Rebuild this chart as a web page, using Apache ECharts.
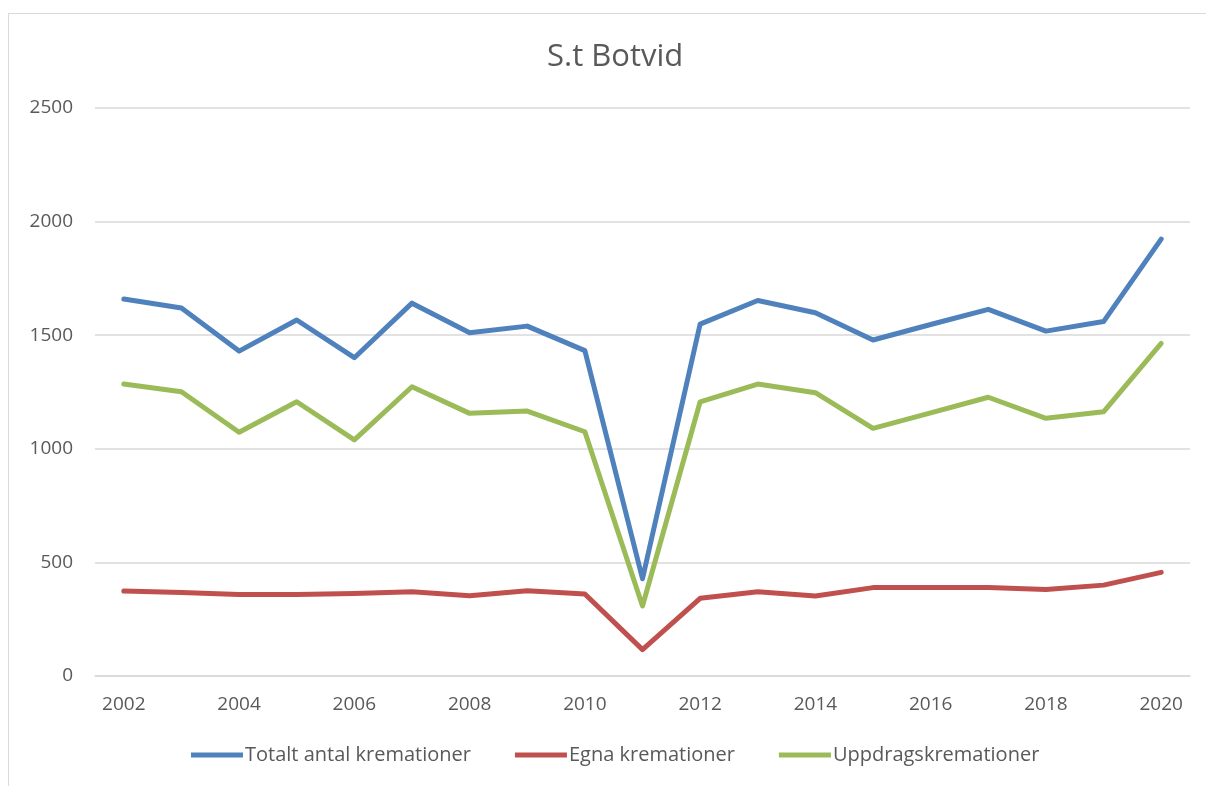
<!DOCTYPE html>
<html>
<head>
<meta charset="utf-8">
<script src="https://cdn.jsdelivr.net/npm/echarts@6/dist/echarts.min.js"></script>
<style>
  body { margin: 0; background: #fff; }
  #frame { position: absolute; left: 8px; top: 13px; width: 1200px; height: 780px; border-top: 1px solid #d9d9d9; border-left: 1px solid #d9d9d9; }
  #main { position: absolute; left: 0; top: 0; width: 1206px; height: 786px; }
</style>
</head>
<body>
<div id="frame"></div>
<div id="main"></div>
<script>
// years on the x axis
var years = ['2002','2003','2004','2005','2006','2007','2008','2009','2010','2011',
             '2012','2013','2014','2015','2016','2017','2018','2019','2020'];
var totalt = [1659,1620,1430,1567,1401,1641,1511,1540,1432,428,1549,1653,1599,1479,1547,1614,1518,1560,1923];
var egna = [374,368,359,359,363,371,353,375,361,116,342,371,352,389,389,390,381,400,456];
var uppdrag = [1285,1251,1073,1207,1039,1273,1156,1166,1075,308,1207,1285,1247,1090,1158,1227,1134,1163,1464];
var names = ['Totalt antal kremationer', 'Egna kremationer', 'Uppdragskremationer'];
var colors = ['#4f81bd', '#c0504d', '#9bbb59'];
var yTicks = [0, 500, 1000, 1500, 2000, 2500];

var font = "'Open Sans', 'DejaVu Sans', sans-serif";
var chart = echarts.init(document.getElementById('main'));

function mk(name, data, i) {
    return {
        name: name,
        type: 'line',
        data: data,
        symbol: 'none',
        lineStyle: { width: 5, color: colors[i], cap: 'round', join: 'round' },
        itemStyle: { color: colors[i] }
    };
}

var option = {
    animation: false,
    title: {
        text: 'S.t Botvid',
        left: 542,
        top: 37,
        textStyle: { fontFamily: font, fontSize: 31, fontWeight: 'normal', color: '#595959' }
    },
    legend: {
        bottom: 16,
        left: 186,
        icon: 'rect',
        itemWidth: 52,
        itemHeight: 5,
        itemGap: 44,
        textStyle: { fontFamily: font, fontSize: 20, color: '#595959', padding: [0, 0, 0, -3] },
        data: names
    },
    grid: { left: 95, right: 16, top: 108, bottom: 110 },
    xAxis: {
        type: 'category',
        data: years,
        boundaryGap: true,
        axisLine: { lineStyle: { color: '#d9d9d9', width: 1.5 } },
        axisTick: { show: false },
        axisLabel: { interval: 1, color: '#595959', fontFamily: font, fontSize: 19, margin: 19 }
    },
    yAxis: {
        type: 'value',
        min: yTicks[0],
        max: yTicks[yTicks.length - 1],
        interval: 500,
        axisLine: { show: false },
        axisTick: { show: false },
        splitLine: { lineStyle: { color: '#d9d9d9', width: 1.5 } },
        axisLabel: { color: '#595959', fontFamily: font, fontSize: 19, margin: 22, formatter: function (v) { return String(v); } }
    },
    series: [mk(names[0], totalt, 0), mk(names[1], egna, 1), mk(names[2], uppdrag, 2)]
};
chart.setOption(option);
</script>
</body>
</html>
